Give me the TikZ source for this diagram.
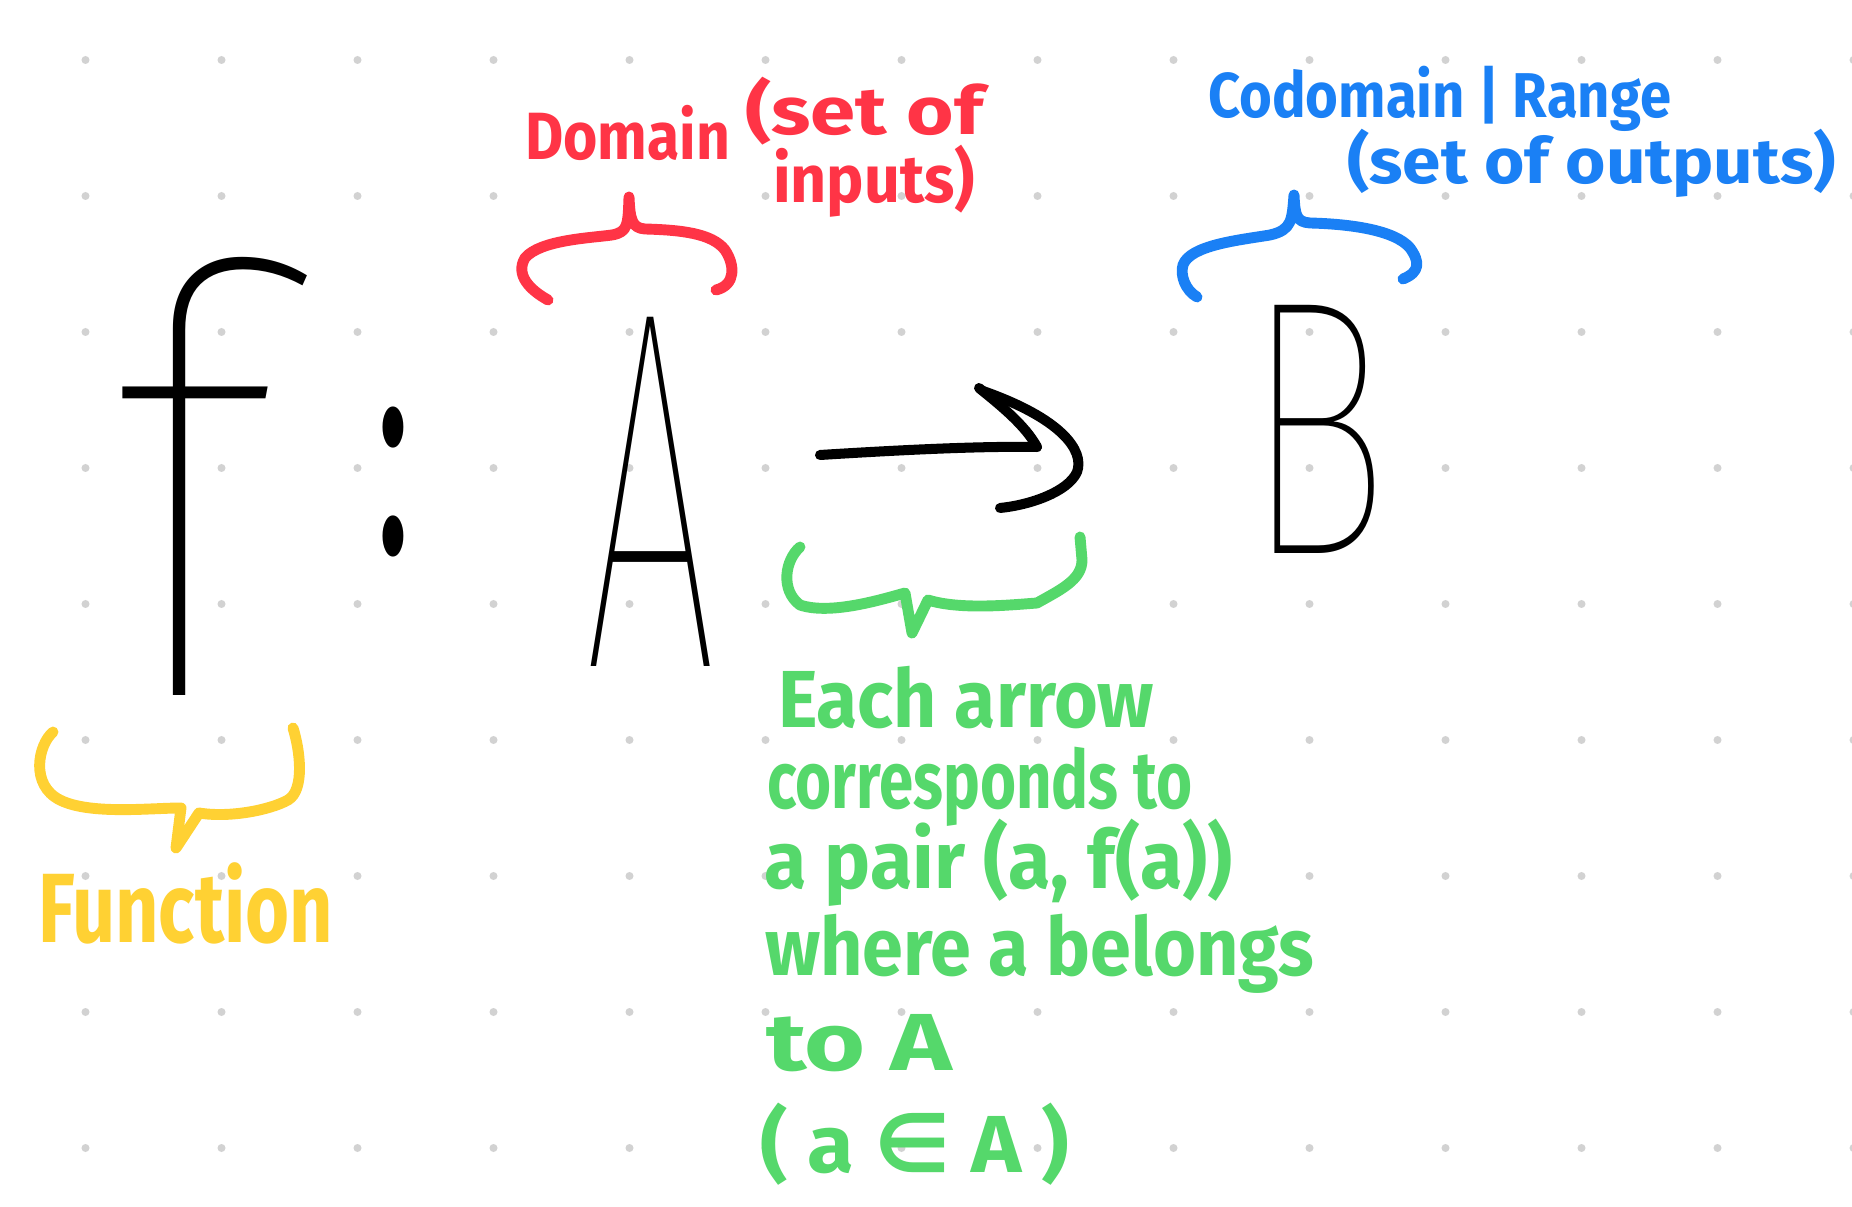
\documentclass[tikz,border=0pt]{standalone}
\usepackage{fontspec}
\setmainfont{Fira Sans}
\IfFontExistsTF{Fira Sans Thin}{\newfontfamily\thinfont{Fira Sans Thin}}{%
  \IfFontExistsTF{Fira Sans Light}{\newfontfamily\thinfont{Fira Sans Light}}{\newfontfamily\thinfont{Fira Sans}}}
\newfontfamily\symfont{DejaVu Sans}
\newlength\pxu \setlength\pxu{0.01cm}
\newcommand\hw[2]{\resizebox{#1\pxu}{\height}{#2}}
\newcommand\bx[3]{\resizebox*{#1\pxu}{#2\pxu}{#3}}
\definecolor{hred}{HTML}{FF3446}
\definecolor{hblue}{HTML}{1A80F5}
\definecolor{hgreen}{HTML}{55D86B}
\definecolor{hyellow}{HTML}{FFD133}
\definecolor{dotgray}{HTML}{D2D2D2}
\begin{document}
\begin{tikzpicture}[x=0.01cm,y=-0.01cm,
  ink/.style={line width=2.85pt, line cap=round, line join=round},
  hand/.style={line width=3.1pt, line cap=round, line join=round},
  big/.style={inner sep=0pt, outer sep=0pt, text=black, font=\thinfont},
  lbl/.style={inner sep=0pt, outer sep=0pt, anchor=base west, font=\fontsize{#1}{#1}\selectfont\bfseries},
  redtxt/.style={lbl=19pt, text=hred},
  bluetxt/.style={lbl=18pt, text=hblue},
  greentxt/.style={lbl=23pt, text=hgreen},
  yellowtxt/.style={lbl=28pt, text=hyellow}]
\useasboundingbox (0,0) rectangle (1852,1207);
\fill[white] (0,0) rectangle (1852,1207);
\begin{scope}
  \clip (0,0) rectangle (1852,1207);
  \foreach \i in {0,...,13} \foreach \j in {0,...,8}
    \fill[dotgray] (85.5+136*\i, 60+136*\j) circle[radius=0.04cm];
\end{scope}

% main formula f : A -> B
\node[big] (f) at (192,476) {\bx{172}{438}{f}};
\node[big, font=\fontspec{Fira Sans}] (colon) at (393,482) {\bx{36}{150}{:}};
\node[big] (A) at (651,492) {\bx{132}{349}{A}};
\node[big] (B) at (1317,429) {\bx{145}{248}{B}};

% arrow
\coordinate (arrS) at (820,455);
\coordinate (arrE) at (1037,447);
\draw[ink] (arrS) .. controls (900,450) and (980,446) .. (arrE);
\draw[ink] (979,388) .. controls (1000,405) and (1025,425) .. (arrE);
\draw[ink] (983,391) .. controls (1060,418) and (1085,450) .. (1077,472)
  .. controls (1068,492) and (1030,505) .. (1000,508);

% red brace (domain)
\draw[hand, hred] (548,300) .. controls (530,290) and (515,275) .. (525,258)
  .. controls (540,240) and (590,238) .. (612,235)
  .. controls (628,232) and (628,225) .. (629,197)
  .. controls (630,220) and (632,228) .. (645,229)
  .. controls (680,230) and (712,233) .. (725,250)
  .. controls (735,265) and (736,285) .. (716,290);
% blue brace (codomain)
\draw[hand, hblue] (1197,297) .. controls (1185,290) and (1180,275) .. (1183,265)
  .. controls (1190,245) and (1240,240) .. (1270,235)
  .. controls (1292,230) and (1292,220) .. (1294,195)
  .. controls (1295,215) and (1296,222) .. (1310,223)
  .. controls (1350,224) and (1395,230) .. (1410,248)
  .. controls (1420,262) and (1420,272) .. (1403,279);
% green brace (arrow)
\draw[hand, hgreen] (800,547) .. controls (785,560) and (780,590) .. (800,605)
  .. controls (830,615) and (880,600) .. (905,593)
  -- (912,633) -- (928,600)
  .. controls (960,610) and (1010,605) .. (1037,603)
  .. controls (1060,590) and (1082,580) .. (1082,560) -- (1080,537);
% yellow brace (function)
\draw[hand, hyellow] (53,732) .. controls (38,745) and (30,785) .. (60,800)
  .. controls (90,815) and (150,808) .. (181,808)
  -- (176,848) -- (199,813)
  .. controls (230,818) and (270,810) .. (288,800)
  .. controls (305,790) and (300,750) .. (293,728);

% labels
\node[redtxt] (dom1) at (525,160) {\hw{205}{Domain}};
\node[redtxt] (dom2) at (745,135) {\hw{238}{(set of}};
\node[redtxt] (dom3) at (773,203) {\hw{202}{inputs)}};

\node[bluetxt] (cod1) at (1208,118) {\hw{463}{Codomain | Range}};
\node[bluetxt] (cod2) at (1347,184) {\hw{489}{(set of outputs)}};

\node[greentxt] (g1) at (778,728) {\hw{376}{Each arrow}};
\node[greentxt] (g2) at (767,808) {\hw{425}{corresponds to}};
\node[greentxt] (g3) at (764,888) {\hw{469}{a pair (a, f(a))}};
\node[greentxt] (g4) at (765,975) {\hw{549}{where a belongs}};
\node[greentxt] (g5) at (766,1070) {\hw{186}{to A}};
\node[greentxt] (g6) at (760,1172) {\hw{309}{( a {\symfont\bfseries ∈} A )}};

\node[yellowtxt] (fn) at (38,942) {\hw{295}{Function}};
\end{tikzpicture}
\end{document}
